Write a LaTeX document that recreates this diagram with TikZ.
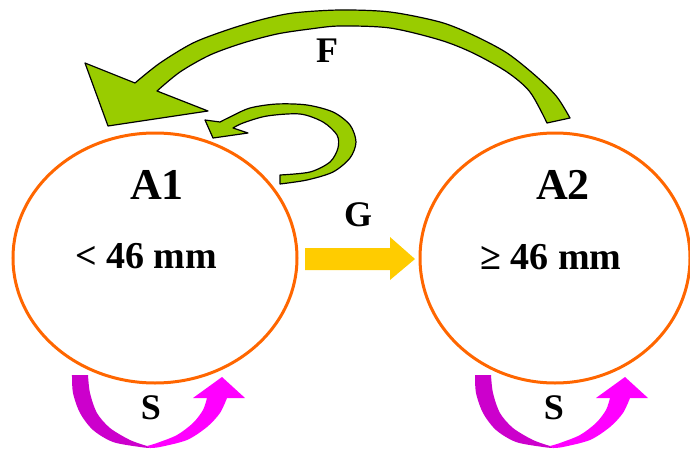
\documentclass[tikz,border=0pt]{standalone}
\usepackage{fontspec}
\setmainfont{Liberation Serif}
\usetikzlibrary{shapes.geometric}
\definecolor{ored}{HTML}{FF6600}
\definecolor{fgreen}{HTML}{99CC00}
\definecolor{gold}{HTML}{FFCC00}
\definecolor{dmag}{HTML}{CC00CC}
\definecolor{bmag}{HTML}{FF00FF}
\begin{document}
\begin{tikzpicture}[x=0.75pt,y=-0.75pt,
  state/.style={draw=ored, line width=2.25pt, ellipse, inner sep=0pt, minimum height=187.5pt},
  big/.style={font=\bfseries\fontsize{33}{36}\selectfont, anchor=base},
  mid/.style={font=\bfseries\fontsize{28.5}{32}\selectfont, anchor=base},
  lbl/.style={font=\bfseries\fontsize{27}{30}\selectfont, anchor=base},
  greenarrow/.style={fill=fgreen, draw=black, line width=0.9pt, line join=round},
  goldarrow/.style={fill=gold},
  darkpart/.style={fill=dmag},
  brightpart/.style={fill=bmag},
]
\useasboundingbox (0,0) rectangle (690,450);
% states
\node[state, minimum width=213pt] (A1) at (155,258) {};
\node[state, minimum width=202.5pt] (A2) at (555,258) {};
\node[big] (t1) at (157,199) {A1};
\node[mid] (r1) at (146,268) {< 46 mm};
\node[big] (t2) at (563,199) {A2};
\node[mid] (r2) at (551,269) {≥ 46 mm};
% F arrow
\draw[greenarrow] plot[smooth] coordinates {(570,118) (557,97) (537,77) (507,53) (473,35) (440,22) (390,12) (340,10) (293,13) (260,20) (227,30) (193,43) (160,63) (135,83)}
  -- (85,63) -- (108,126) -- (208,111)
  -- plot[smooth] coordinates {(157,91) (180,72) (210,55) (243,43) (277,34) (310,29) (340,26) (390,28) (440,40) (473,53) (507,72) (530,92) (547,123)} -- cycle;
\node[lbl] (F) at (327,62) {F};
% self loop on A1
\draw[greenarrow] (280,175) -- plot[smooth] coordinates {(280,184) (307,180) (333,172) (350,158) (356,142) (350,125) (333,112) (307,105) (277,104) (250,108) (230,117) (220,122)}
  -- (205,120) -- (213,138) -- (248,133)
  -- plot[smooth] coordinates {(233,128) (243,123) (267,116) (300,114) (323,122) (337,135) (338,148) (330,162) (310,172) (280,175)} -- cycle;
% G arrow
\fill[goldarrow] (305,248) -- (390,248) -- (390,237) -- (415,259) -- (390,280) -- (390,270) -- (305,270) -- cycle;
\node[lbl] (G) at (358,226) {G};
% S arrows
\foreach \dx/\nm in {0/S1,403/S2}{
  \begin{scope}[shift={(\dx,0)}]
    \fill[darkpart] plot[smooth] coordinates {(72,375) (73,393) (80,413) (93,430) (113,442) (140,447) (150,448)}
      -- plot[smooth] coordinates {(147,446) (130,440) (110,428) (97,413) (90,393) (88,375)} -- cycle;
    \fill[brightpart] plot[smooth] coordinates {(150,448) (160,447) (187,440) (207,427) (220,413) (227,398)}
      -- (245,398) -- (222,377) -- (193,398) -- (207,398)
      -- plot[smooth] coordinates {(207,398) (203,410) (193,423) (177,435) (157,443) (147,446)} -- cycle;
    \node[lbl] (\nm) at (151,419) {S};
  \end{scope}
}
\end{tikzpicture}
\end{document}
